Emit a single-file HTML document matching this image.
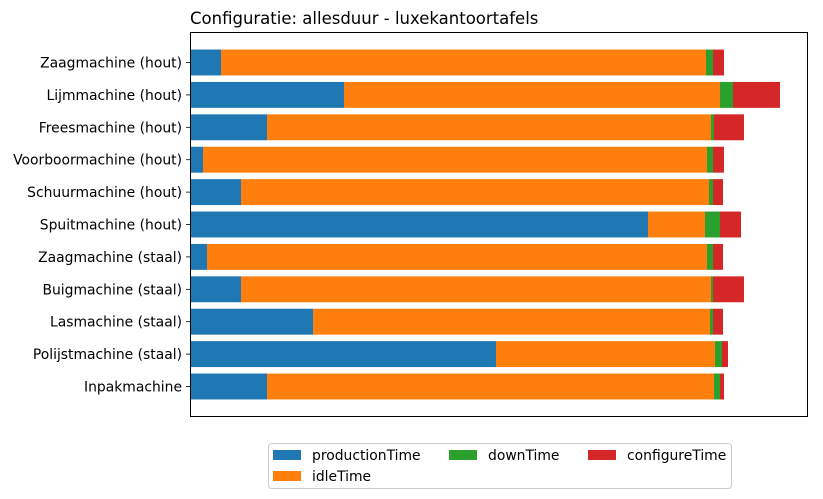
<!DOCTYPE html>
<html><head><meta charset="utf-8"><style>
body{margin:0;background:#fff;}
svg{display:block;font-family:"DejaVu Sans","Liberation Sans",sans-serif;}
</style></head><body>
<svg id="chart" width="823" height="499" viewBox="0 0 823 499"></svg>
<script>
const categories=["Zaagmachine (hout)","Lijmmachine (hout)","Freesmachine (hout)","Voorboormachine (hout)","Schuurmachine (hout)","Spuitmachine (hout)","Zaagmachine (staal)","Buigmachine (staal)","Lasmachine (staal)","Polijstmachine (staal)","Inpakmachine"];
const productionTime=[31,154,77,13,51,458,17,51,123,306,77];
const idleTime=[485,376,444,504,468,57,500,470,397,219,447];
const downTime=[7,13,3,6,4,15,6,2,3,7,6];
const configureTime=[11,47,30,11,10,21,10,31,10,6,4];
const seriesNames=["productionTime","idleTime","downTime","configureTime"];
const seriesColors=["#1f77b4","#ff7f0e","#2ca02c","#d62728"];
const series=[productionTime,idleTime,downTime,configureTime];
const xMax=618;
const L=190,R=808,T=32,B=417;
const NS="http://www.w3.org/2000/svg";
const svg=document.getElementById('chart');
function mk(t,a,p){const e=document.createElementNS(NS,t);for(const k in a)e.setAttribute(k,a[k]);(p||svg).appendChild(e);return e;}
const xs=v=>L+v/xMax*(R-L);
const n=categories.length;
const slot=32.4;
const pad=((B-T)-slot*n)/2;
const yc=i=>T+pad+slot*(i+0.5);
const bh=slot*0.8;
const title=mk('text',{x:190,y:24,'font-size':16.5,fill:'#000'});


title.textContent="Configuratie: allesduur - luxekantoortafels";
for(let i=0;i<n;i++){
  let acc=0;
  for(let s=0;s<series.length;s++){
    const v=series[s][i];
    const r=mk('rect',{x:xs(acc),y:yc(i)-bh/2,width:xs(acc+v)-xs(acc),height:bh,fill:seriesColors[s]});
    
    
    acc+=v;
  }
  mk('line',{x1:L-4,x2:L,y1:yc(i),y2:yc(i),stroke:'#000','stroke-width':0.8});
  const t=mk('text',{x:L-8,y:yc(i)+5,'text-anchor':'end','font-size':13.9,fill:'#000'});
  
  
  t.textContent=categories[i];
}
const frame=mk('rect',{x:L+0.5,y:T+0.5,width:R-L-1,height:B-T-1,fill:'none',stroke:'#000','stroke-width':1});


const lg=mk('g',{});


mk('rect',{x:268.5,y:443.5,width:463,height:45,rx:3,fill:'#fff',stroke:'#ccc'},lg);
const lpos=[[273,455],[273,476],[449,455],[588,455]];
for(let s=0;s<4;s++){
  const [x,y]=lpos[s];
  const g=mk('g',{},lg);
  
  
  mk('rect',{x:x,y:y-5,width:28,height:10,fill:seriesColors[s]},g);
  const t=mk('text',{x:x+39,y:y+5,'font-size':13.9,fill:'#000'},g);
  t.textContent=seriesNames[s];
}
</script>
</body></html>
